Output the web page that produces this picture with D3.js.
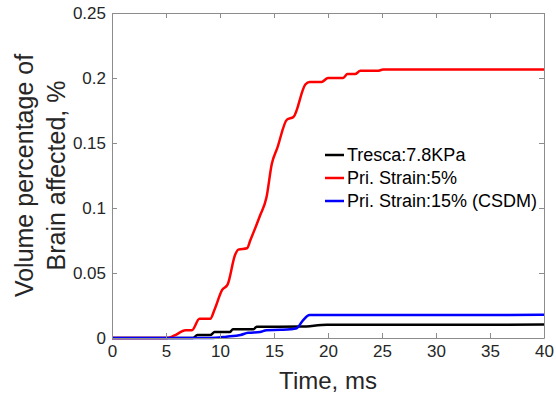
<!DOCTYPE html>
<html>
<head>
<meta charset="utf-8">
<script src="https://cdn.jsdelivr.net/npm/d3@7"></script>
<style>
  body { margin: 0; background: #fff; }
  text { font-family: "Liberation Sans", Arial, sans-serif; }
</style>
</head>
<body>
<script>
// data (time in ms, volume fraction)
const xTicks = [0, 5, 10, 15, 20, 25, 30, 35, 40]
const yTicks = [0, 0.05, 0.1, 0.15, 0.2, 0.25]
const yTickLabels = ["0", "0.05", "0.1", "0.15", "0.2", "0.25"]

const trescaTime = [0, 7.5, 7.9, 9.1, 9.5, 10.9, 11.2, 13.1, 13.4, 17.5, 19.9, 40]
const trescaVal  = [0, 0, 0.0023, 0.0023, 0.0046, 0.0046, 0.0067, 0.0067, 0.0087, 0.0088, 0.0102, 0.0103]

const strain5Time = [0, 5.1, 5.8, 6.8, 7.4, 8.1, 9.1, 9.5, 10.2, 10.7, 11.4, 11.7, 12.5, 12.8, 13.7, 14.3, 14.8, 15.3, 16.2, 16.8, 17.9, 18.3, 19.4, 20.0, 21.4, 21.8, 22.5, 23.0, 24.6, 25.1, 40]
const strain5Val  = [0, 0, 0.002, 0.006, 0.006, 0.0148, 0.0148, 0.022, 0.037, 0.041, 0.064, 0.068, 0.069, 0.075, 0.094, 0.108, 0.134, 0.146, 0.168, 0.170, 0.195, 0.197, 0.197, 0.2, 0.2, 0.203, 0.203, 0.2055, 0.2055, 0.2065, 0.2065]

const strain15Time = [0, 9.1, 10.6, 11.9, 12.6, 13.7, 14.3, 15.6, 16.5, 17.1, 17.7, 18.3, 40]
const strain15Val  = [0, 0, 0.001, 0.0023, 0.004, 0.0046, 0.006, 0.0063, 0.0067, 0.0075, 0.0138, 0.0177, 0.0178]

const seriesNames = ["Tresca:7.8KPa", "Pri. Strain:5%", "Pri. Strain:15% (CSDM)"]
const seriesColors = ["#000000", "#ff0000", "#0000ff"]

const series = [
    {name: seriesNames[0], color: seriesColors[0], pts: trescaTime.map((t, i) => [t, trescaVal[i]])},
    {name: seriesNames[1], color: seriesColors[1], pts: strain5Time.map((t, i) => [t, strain5Val[i]])},
    {name: seriesNames[2], color: seriesColors[2], pts: strain15Time.map((t, i) => [t, strain15Val[i]])}
]

const width = 556
const height = 404
const plotLeft = 112, plotTop = 13, plotRight = 544, plotBottom = 338

const xScale = d3.scaleLinear().domain([0, 40]).range([plotLeft, plotRight])
const yScale = d3.scaleLinear().domain([0, 0.25]).range([plotBottom, plotTop])

let svg = d3.select('body').append('svg')
    .attr('width', width)
    .attr('height', height)

// curves
const line = d3.line()
    .x(d => xScale(d[0]))
    .y(d => yScale(d[1]))
    .curve(d3.curveMonotoneX)

svg.append('g').selectAll('path')
    .data(series)
    .enter()
    .append('path')
        .attr('d', d => line(d.pts))
        .attr('fill', 'none')
        .attr('stroke', d => d.color)
        .attr('stroke-width', 2.5)
        .attr('stroke-linejoin', 'round')

// axes (matlab style, ticks inside on all sides)
const tickColor = '#262626'
svg.append('g')
    .attr('transform', `translate(0, ${plotBottom})`)
    .call(d3.axisBottom(xScale).tickValues(xTicks).tickSize(-5).tickPadding(7).tickSizeOuter(0))
svg.append('g')
    .attr('transform', `translate(0, ${plotTop})`)
    .call(d3.axisTop(xScale).tickValues(xTicks).tickSize(-5).tickFormat('').tickSizeOuter(0))
svg.append('g')
    .attr('transform', `translate(${plotLeft}, 0)`)
    .call(d3.axisLeft(yScale).tickValues(yTicks).tickFormat((d, i) => yTickLabels[i]).tickSize(-5).tickPadding(6).tickSizeOuter(0))
svg.append('g')
    .attr('transform', `translate(${plotRight}, 0)`)
    .call(d3.axisRight(yScale).tickValues(yTicks).tickSize(-5).tickFormat('').tickSizeOuter(0))

svg.selectAll('.domain').attr('stroke', '#8c8c8c').attr('stroke-width', 1)
svg.selectAll('.tick line').attr('stroke', '#8c8c8c')
svg.selectAll('.tick text')
    .attr('fill', tickColor)
    .style('font-size', '17px')
    .style('font-family', '"Liberation Sans", Arial, sans-serif')

// axis titles
svg.append('text')
    .attr('x', (plotLeft + plotRight) / 2)
    .attr('y', 389)
    .attr('text-anchor', 'middle')
    .attr('fill', tickColor)
    .style('font-size', '24px')
    .text('Time, ms')

svg.append('text')
    .attr('transform', `translate(33, ${(plotTop + plotBottom) / 2}) rotate(-90)`)
    .attr('text-anchor', 'middle')
    .attr('fill', tickColor)
    .style('font-size', '25px')
    .text('Volume percentage of')
svg.append('text')
    .attr('transform', `translate(65, ${(plotTop + plotBottom) / 2}) rotate(-90)`)
    .attr('text-anchor', 'middle')
    .attr('fill', tickColor)
    .style('font-size', '25px')
    .text('Brain affected, %')

// legend
let legend = svg.append('g')
    .attr('transform', 'translate(325, 155)')
let items = legend.selectAll('g')
    .data(series)
    .enter()
    .append('g')
        .attr('transform', (d, i) => `translate(0, ${i * 23})`)
items.append('line')
    .attr('x1', 0).attr('x2', 19)
    .attr('y1', 0).attr('y2', 0)
    .attr('stroke', d => d.color)
    .attr('stroke-width', 2.5)
items.append('text')
    .attr('x', 22)
    .attr('y', 0)
    .attr('dy', '0.35em')
    .attr('fill', '#000')
    .style('font-size', '18px')
    .text(d => d.name)
</script>
</body>
</html>
